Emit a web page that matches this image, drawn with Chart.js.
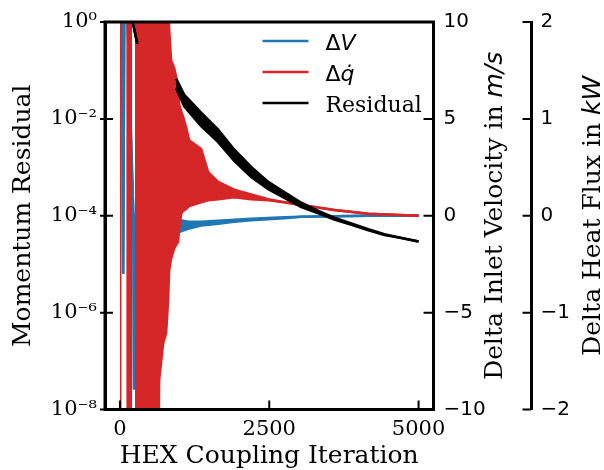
<!DOCTYPE html>
<html>
<head>
<meta charset="utf-8">
<script src="https://cdn.jsdelivr.net/npm/chart.js@4.4.0/dist/chart.umd.min.js"></script>
<style>
  html, body { margin: 0; padding: 0; background: #fff; }
</style>
</head>
<body>
<canvas id="couplingChart" width="604" height="470"></canvas>
<script>
// Axis ticks and labels
const xTicks = [0, 2500, 5000];
const xTickLabels = ['0', '2500', '5000'];
const resTicks = [1e-8, 1e-6, 1e-4, 1e-2, 1];
const resTickLabels = ['10⁻⁸', '10⁻⁶', '10⁻⁴', '10⁻²', '10⁰'];
const velTicks = [-10, -5, 0, 5, 10];
const velTickLabels = ['−10', '−5', '0', '5', '10'];
const heatTicks = [-2, -1, 0, 1, 2];
const heatTickLabels = ['−2', '−1', '0', '1', '2'];
const seriesLabels = ['ΔV', 'Δq̇', 'Residual'];

// Momentum residual (black), upper / lower edge of the noisy band (null = hidden under red)
const resIter  = [180, 290, 300, 941, 1075, 1360, 1645, 1913, 2198, 2483, 2752, 3037, 3322, 3590, 3875, 4160, 4429, 4714, 5000];
const resUpper = [1.6, 0.355, null, 6.76e-2, 3.16e-2, 1.35e-2, 6.03e-3, 2.34e-3, 1.02e-3, 5.01e-4, 3.09e-4, 1.86e-4, 1.26e-4, 9.1e-5, 6.9e-5, 5.25e-5, 4.17e-5, 3.47e-5, 2.95e-5];
const resLower = [1.6, 0.355, null, 4.27e-2, 1.82e-2, 7.08e-3, 3.31e-3, 1.35e-3, 6.31e-4, 3.55e-4, 2.34e-4, 1.51e-4, 1.12e-4, 8.3e-5, 6.5e-5, 5.0e-5, 3.98e-5, 3.47e-5, 2.95e-5];

// Delta inlet velocity in m/s (blue)
const velIter  = [35, 55, 75, 110, 225, 236, 250, 960, 1058, 1142, 1360, 1645, 1913, 2198, 2752, 3037, 3590, 4160, 5000];
const velUpper = [12, -3.0, 12, 12, 0, -8.9, 0, -0.21, -0.26, -0.31, -0.31, -0.26, -0.21, -0.15, -0.08, -0.05, -0.02, -0.005, 0];
const velLower = [12, -3.0, 12, 12, 0, -8.9, 0, -0.87, -0.77, -0.67, -0.51, -0.41, -0.31, -0.23, -0.13, -0.05, -0.02, -0.005, 0];

// Delta heat flux in kW (red)
const heatIter  = [0, 30, 33, 105, 205, 228, 252, 640, 656, 723, 773, 806, 823, 857, 907, 941, 974, 991, 1025, 1058, 1108, 1159, 1360, 1477, 1645, 1913, 2198, 2483, 2752, 3037, 3590, 4160, 5000];
const heatUpper = [3, 3, null, 3, 3, null, 3, 3, 3, 3, 3, 3, 1.94, 1.60, 1.53, 1.43, 1.30, 1.15, 1.08, 1.02, 0.91, 0.78, 0.69, 0.45, 0.35, 0.27, 0.22, 0.17, 0.14, 0.11, 0.06, 0.02, 0.0];
const heatLower = [-3, -3, null, -3, -3, null, -3, -3, -1.70, -1.32, -1.21, -0.88, -0.57, -0.44, -0.34, -0.30, -0.27, -0.13, 0.02, 0.05, 0.07, 0.10, 0.14, 0.16, 0.17, 0.19, 0.17, 0.16, 0.14, 0.11, 0.06, 0.02, 0.0];

const BLUE = '#1f77b4', RED = '#d62728', BLACK = '#000000';
const SERIF = 'DejaVu Serif', SANS = 'DejaVu Sans';

// two line datasets per visible run, the lower one filled up to the upper one
function bands(iter, upper, lower, label, color, axis, order) {
  const out = [];
  let run = [];
  const flush = () => {
    if (!run.length) return;
    const pts = arr => run.map(i => ({x: iter[i], y: arr[i]}));
    const common = {label: label, yAxisID: axis, borderColor: color, backgroundColor: color,
      borderWidth: 2.5, pointRadius: 0, tension: 0, order: order, clip: 0};
    out.push(Object.assign({data: pts(upper), fill: false}, common));
    out.push(Object.assign({data: pts(lower), fill: '-1'}, common));
    run = [];
  };
  iter.forEach((x, i) => { if (upper[i] === null) flush(); else run.push(i); });
  flush();
  return out;
}

// ticks point inward like the original, frame drawn over the data
const frameAndTicks = {
  id: 'frameAndTicks',
  afterDatasetsDraw(chart) {
    const {ctx, chartArea: a, scales} = chart;
    ctx.save();
    ctx.strokeStyle = '#000';
    ctx.lineWidth = 3;
    ctx.strokeRect(a.left, a.top, a.right - a.left, a.bottom - a.top);
    ctx.lineWidth = 2;
    ctx.beginPath();
    scales.x.ticks.forEach(t => {
      const px = scales.x.getPixelForValue(t.value);
      ctx.moveTo(px, a.bottom); ctx.lineTo(px, a.bottom - 9);
    });
    scales.y.ticks.forEach(t => {
      const py = scales.y.getPixelForValue(t.value);
      ctx.moveTo(a.left - 5, py); ctx.lineTo(a.left + 8, py);
    });
    scales.y1.ticks.forEach(t => {
      const py = scales.y1.getPixelForValue(t.value);
      ctx.moveTo(a.right, py); ctx.lineTo(a.right - 10, py);
    });
    const x2 = scales.y2.left;
    scales.y2.ticks.forEach(t => {
      const py = scales.y2.getPixelForValue(t.value);
      ctx.moveTo(x2, py); ctx.lineTo(x2 - 9, py);
    });
    ctx.stroke();
    ctx.restore();
  }
};

function drawParts(ctx, parts, x, y) {
  let cx = x;
  parts.forEach(p => {
    ctx.font = p[1];
    ctx.fillText(p[0], cx, y);
    cx += ctx.measureText(p[0]).width;
  });
}

function partsWidth(ctx, parts) {
  let w = 0;
  parts.forEach(p => { ctx.font = p[1]; w += ctx.measureText(p[0]).width; });
  return w;
}

// right hand titles read bottom to top, units in italic
const sideTitles = {
  id: 'sideTitles',
  afterDraw(chart) {
    const {ctx, chartArea: a, scales} = chart;
    const mid = (a.top + a.bottom) / 2;
    const f = '25px "' + SERIF + '"', fi = 'italic 25px "' + SANS + '"';
    const titles = [
      [[['Delta Inlet Velocity in ', f], ['m/s', fi]], scales.y1.right - 30],
      [[['Delta Heat Flux in ', f], ['kW', fi]], scales.y2.right - 4]
    ];
    ctx.save();
    ctx.fillStyle = '#000';
    ctx.textBaseline = 'alphabetic';
    ctx.textAlign = 'left';
    titles.forEach(([parts, bx]) => {
      ctx.save();
      ctx.translate(bx, mid);
      ctx.rotate(-Math.PI / 2);
      drawParts(ctx, parts, -partsWidth(ctx, parts) / 2, 0);
      ctx.restore();
    });
    ctx.restore();
  }
};

// legend inside the upper right corner of the plot
const cornerLegend = {
  id: 'cornerLegend',
  afterDraw(chart) {
    const {ctx, chartArea: a} = chart;
    const sans = '22px "' + SANS + '"', ital = 'italic 22px "' + SANS + '"', serif = '22px "' + SERIF + '"';
    const rows = [
      [BLUE, [['Δ', sans], [seriesLabels[0].slice(1), ital]]],
      [RED, [['Δ', sans], [seriesLabels[1].slice(1), ital]]],
      [BLACK, [[seriesLabels[2], serif]]]
    ];
    ctx.save();
    ctx.textBaseline = 'alphabetic';
    ctx.textAlign = 'left';
    rows.forEach(([color, parts], i) => {
      const y = a.top + 19 + i * 31;
      ctx.strokeStyle = color;
      ctx.lineWidth = 2.5;
      ctx.beginPath();
      ctx.moveTo(a.right - 171, y);
      ctx.lineTo(a.right - 125, y);
      ctx.stroke();
      ctx.fillStyle = '#000';
      drawParts(ctx, parts, a.right - 108, y + 8.5);
    });
    ctx.restore();
  }
};

const ctx = document.getElementById('couplingChart').getContext('2d');
const couplingChart = new Chart(ctx, {
  type: 'line',
  data: {
    datasets: [].concat(
      bands(resIter, resUpper, resLower, seriesLabels[2], BLACK, 'y', 0),
      bands(heatIter, heatUpper, heatLower, seriesLabels[1], RED, 'y2', 1),
      bands(velIter, velUpper, velLower, seriesLabels[0], BLUE, 'y1', 2)
    )
  },
  options: {
    responsive: false,
    animation: false,
    events: [],
    layout: {padding: {top: 20, left: 0, right: 0, bottom: 0}},
    plugins: {legend: {display: false}, tooltip: {enabled: false}},
    scales: {
      x: {
        type: 'linear', min: -250, max: 5250,
        afterBuildTicks: s => { s.ticks = xTicks.map(v => ({value: v})); },
        afterFit: s => { s.height = 60.5; },
        grid: {display: false, drawTicks: false},
        border: {display: true, color: '#000', width: 3},
        ticks: {padding: 7, color: '#000', autoSkip: false, maxRotation: 0,
          font: {family: SERIF, size: 21}, callback: (v, i) => xTickLabels[i]},
        title: {display: true, text: 'HEX Coupling Iteration', color: '#000',
          font: {family: SERIF, size: 25}, padding: {top: 0, bottom: -1}}
      },
      y: {
        type: 'logarithmic', position: 'left', min: 1e-8, max: 1,
        afterBuildTicks: s => { s.ticks = resTicks.map(v => ({value: v})); },
        afterFit: s => { s.width = 105; },
        grid: {display: false, drawTicks: false},
        border: {display: true, color: '#000', width: 3},
        ticks: {padding: 8, color: '#000', autoSkip: false,
          font: {family: SERIF, size: 21}, callback: (v, i) => resTickLabels[i]},
        title: {display: true, text: 'Momentum Residual', color: '#000',
          font: {family: SERIF, size: 25}, padding: {top: 8, bottom: 0}}
      },
      y1: {
        type: 'linear', position: 'right', weight: 1, min: -10, max: 10,
        afterBuildTicks: s => { s.ticks = velTicks.map(v => ({value: v})); },
        afterFit: s => { s.width = 98; },
        grid: {display: false, drawTicks: false},
        border: {display: true, color: '#000', width: 3},
        ticks: {padding: 10, color: '#000', autoSkip: false,
          font: {family: SANS, size: 20}, callback: (v, i) => velTickLabels[i]}
      },
      y2: {
        type: 'linear', position: 'right', weight: 2, min: -2, max: 2,
        afterBuildTicks: s => { s.ticks = heatTicks.map(v => ({value: v})); },
        afterFit: s => { s.width = 72.5; },
        grid: {display: false, drawTicks: false},
        border: {display: true, color: '#000', width: 3},
        ticks: {padding: 9, color: '#000', autoSkip: false,
          font: {family: SANS, size: 20}, callback: (v, i) => heatTickLabels[i]}
      }
    }
  },
  plugins: [frameAndTicks, sideTitles, cornerLegend]
});
</script>
</body>
</html>
